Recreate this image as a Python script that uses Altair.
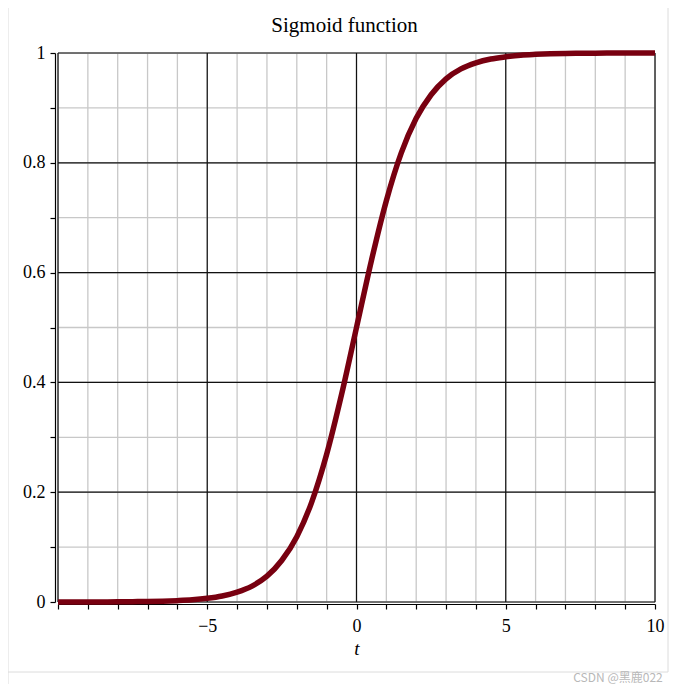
import altair as alt
import pandas as pd

# curve values
t_vals = [-10, -9.5, -9, -8.5, -8, -7.5, -7, -6.5, -6, -5.5, -5, -4.5, -4, -3.5, -3,
          -2.5, -2, -1.5, -1, -0.5, 0, 0.5, 1, 1.5, 2, 2.5, 3, 3.5, 4, 4.5, 5,
          5.5, 6, 6.5, 7, 7.5, 8, 8.5, 9, 9.5, 10]
sig_vals = [0.00005, 0.0001, 0.0001, 0.0002, 0.0003, 0.0006, 0.0009, 0.0015, 0.0025, 0.004, 0.0067,
            0.011, 0.018, 0.029, 0.047, 0.076, 0.119, 0.182, 0.269, 0.378, 0.5,
            0.622, 0.731, 0.818, 0.881, 0.924, 0.953, 0.971, 0.982, 0.989, 0.993,
            0.996, 0.9975, 0.9985, 0.9991, 0.9994, 0.9997, 0.9998, 0.9999, 0.9999, 0.99995]

minor_x = [-10, -9, -8, -7, -6, -5, -4, -3, -2, -1, 0, 1, 2, 3, 4, 5, 6, 7, 8, 9, 10]
major_x = [-10, -5, 0, 5, 10]
minor_y = [0, 0.1, 0.2, 0.3, 0.4, 0.5, 0.6, 0.7, 0.8, 0.9, 1]
major_y = [0, 0.2, 0.4, 0.6, 0.8, 1]

title_text = "Sigmoid function"
x_title = "t"
watermark = "CSDN @黑鹿022"

SERIF = "Liberation Serif"
xs = alt.Scale(domain=[-10, 10], nice=False, zero=False)
ys = alt.Scale(domain=[0, 1], nice=False, zero=False)

curve_df = pd.DataFrame({"t": t_vals, "s": sig_vals})

x_axis = alt.Axis(values=minor_x, grid=False, offset=2, tickSize=5,
                  tickColor="black", domainColor="black", domainWidth=1.2,
                  tickWidth=1.2,
                  labelExpr="(datum.value % 5 == 0 && datum.value != -10) ? datum.label : ''",
                  labelFont=SERIF, labelFontSize=18, labelColor="black",
                  labelPadding=8, labelFlush=False,
                  titleFont=SERIF, titleFontSize=19, titleFontStyle="italic",
                  titleFontWeight="normal", titleColor="black", titlePadding=4)
y_axis = alt.Axis(values=minor_y, grid=False, offset=3, tickSize=5,
                  tickColor="black", domainColor="black", domainWidth=1.2,
                  tickWidth=1.2,
                  labelExpr="round(datum.value*10) % 2 == 0 ? (datum.value == 0 ? '0' : datum.value == 1 ? '1' : format(datum.value, '.1f')) : ''",
                  labelFont=SERIF, labelFontSize=18, labelColor="black",
                  labelPadding=5, labelFlush=False)

minor_x_rules = alt.Chart(pd.DataFrame({"t": minor_x})).mark_rule(
    color="#c8c8c8", strokeWidth=1.3
).encode(x=alt.X("t:Q", scale=xs, title=x_title, axis=x_axis))

minor_y_rules = alt.Chart(pd.DataFrame({"s": minor_y})).mark_rule(
    color="#c8c8c8", strokeWidth=1.3
).encode(y=alt.Y("s:Q", scale=ys, title=None, axis=y_axis))

major_x_rules = alt.Chart(pd.DataFrame({"t": major_x})).mark_rule(
    color="#111111", strokeWidth=1.2
).encode(x=alt.X("t:Q", scale=xs, title=x_title, axis=x_axis))

major_y_rules = alt.Chart(pd.DataFrame({"s": major_y})).mark_rule(
    color="#111111", strokeWidth=1.2
).encode(y=alt.Y("s:Q", scale=ys, title=None, axis=y_axis))

curve = alt.Chart(curve_df).mark_line(
    color="#780010", strokeWidth=5.5, interpolate="monotone"
).encode(
    x=alt.X("t:Q", scale=xs, title=x_title, axis=x_axis),
    y=alt.Y("s:Q", scale=ys, title=None, axis=y_axis),
)

one = pd.DataFrame({"a": [0]})
frame = alt.Chart(one).mark_rect(
    fillOpacity=0, stroke="#dcdcdc", strokeWidth=1
).encode(x=alt.value(-50), x2=alt.value(610), y=alt.value(-48), y2=alt.value(619))

frame_tail = alt.Chart(one).mark_rule(color="#dcdcdc", strokeWidth=1).encode(
    x=alt.value(-50), y=alt.value(619), y2=alt.value(631)
)

wm = alt.Chart(one).mark_text(
    text=watermark, font="Noto Sans CJK SC", fontSize=12, color="#b8b8b8",
    align="center", baseline="middle"
).encode(x=alt.value(560), y=alt.value(625))

chart = alt.layer(
    minor_x_rules, minor_y_rules, major_x_rules, major_y_rules, curve, frame, frame_tail, wm
).properties(
    width=597, height=549,
    padding={"left": 50, "top": 45, "right": 14, "bottom": 82},
    autosize=alt.AutoSizeParams(type="none"),
    title=alt.Title(title_text, font=SERIF, fontSize=21, fontWeight="normal",
                    color="black", anchor="middle", dx=-12, dy=48, offset=0,
                    baseline="alphabetic", frame="group"),
).configure_view(stroke=None).configure(background="white")

chart.save("out.html", embed_options={"renderer": "svg", "actions": False})
